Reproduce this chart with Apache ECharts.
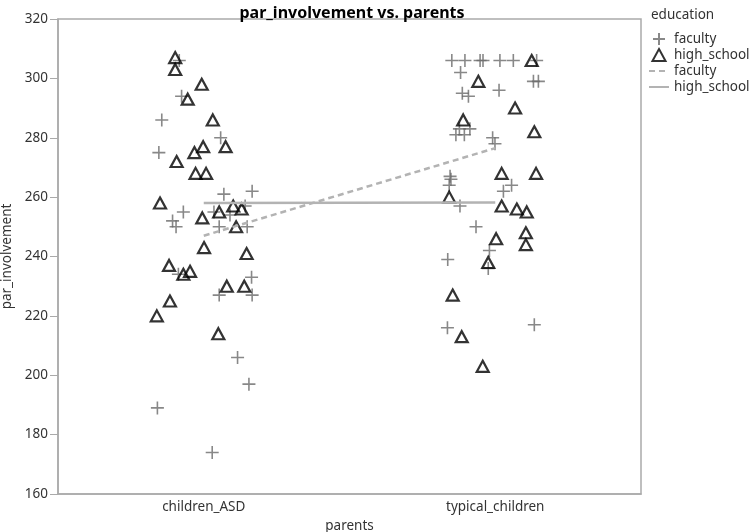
<!DOCTYPE html>
<html>
<head>
<meta charset="utf-8">
<script src="https://cdn.jsdelivr.net/npm/echarts@6/dist/echarts.min.js"></script>
<style>
  html, body { margin: 0; padding: 0; background: #fff; }
  #chart { width: 750px; height: 532px; }
</style>
</head>
<body>
<div id="chart"></div>
<script>
// categories on the x axis (placed at 1 and 2)
const categories = ['children_ASD', 'typical_children'];
const yTicks = [160, 180, 200, 220, 240, 260, 280, 300, 320];

// faculty, children_ASD
const facultyAsdY = [306, 294, 286, 280, 275, 261, 262, 255, 255, 254, 252, 250, 250, 250, 234, 233, 227, 227, 206, 197, 189, 174, 257];
const facultyAsdJitter = [-0.084, -0.076, -0.144, 0.058, -0.154, 0.069, 0.166, -0.070, 0.035, 0.090, -0.107, -0.095, 0.053, 0.149, -0.087, 0.164, 0.053, 0.166, 0.116, 0.155, -0.159, 0.029, 0.142];

// high_school, children_ASD
const hsAsdY = [307, 303, 298, 293, 286, 277, 277, 275, 272, 268, 268, 258, 257, 256, 255, 253, 250, 243, 241, 237, 234, 235, 230, 230, 225, 220, 214];
const hsAsdJitter = [-0.098, -0.098, -0.007, -0.055, 0.031, 0.075, -0.002, -0.032, -0.093, -0.028, 0.008, -0.150, 0.101, 0.130, 0.053, -0.005, 0.111, 0.001, 0.147, -0.119, -0.070, -0.047, 0.079, 0.139, -0.116, -0.161, 0.050];

// faculty, typical_children
const facultyTypY = [306, 306, 306, 306, 306, 306, 306, 302, 299, 299, 296, 295, 294, 283, 283, 281, 281, 280, 278, 267, 266, 264, 264, 262, 257, 250, 242, 239, 236, 216, 217];
const facultyTypJitter = [-0.149, -0.104, -0.052, -0.042, 0.016, 0.062, 0.142, -0.119, 0.131, 0.148, 0.013, -0.113, -0.092, -0.087, -0.123, -0.135, -0.106, -0.009, -0.001, -0.155, -0.152, -0.158, 0.056, 0.028, -0.121, -0.066, -0.020, -0.163, -0.024, -0.164, 0.134];

// high_school, typical_children
const hsTypY = [306, 299, 290, 286, 282, 268, 268, 260, 257, 256, 255, 248, 246, 244, 238, 227, 213, 203];
const hsTypJitter = [0.125, -0.058, 0.068, -0.110, 0.134, 0.022, 0.140, -0.158, 0.022, 0.074, 0.108, 0.105, 0.003, 0.105, -0.024, -0.146, -0.115, -0.043];

// fitted lines (value at each category)
const facultyFit = [247, 276.5];
const hsFit = [258, 258.2];

function pts(ys, jit, cat) {
  return ys.map((v, i) => [cat + jit[i], v]);
}

const chart = echarts.init(document.getElementById('chart'));
const font = 'Noto Sans';
const plusPath = 'path://M6,0L6,12M0,6L12,6';
const triPath = 'path://M6,0L12,11L0,11Z';
const lineGray = '#b3b3b3';

chart.setOption({
  animation: false,
  textStyle: { fontFamily: font },
  title: [
    {
      text: 'par_involvement vs. parents',
      left: 347, top: 0, textAlign: 'center',
      textStyle: { fontSize: 16, fontWeight: 'bold', color: '#000', fontFamily: font }
    },
    {
      text: 'education',
      left: 646, top: 3,
      textStyle: { fontSize: 13.5, fontWeight: 'normal', color: '#333', fontFamily: font }
    }
  ],
  legend: {
    orient: 'vertical',
    left: 643, top: 27,
    itemWidth: 20, itemHeight: 12, itemGap: 2,
    textStyle: { fontSize: 13.5, color: '#333' },
    data: ['faculty', { name: 'high_school', icon: triPath }, 'faculty ', 'high_school ']
  },
  grid: {
    left: 58, right: 109, top: 19, bottom: 38,
    outerBoundsMode: 'none',
    show: true, borderColor: '#aaa', borderWidth: 1.5
  },
  xAxis: {
    type: 'value', min: 0.5, max: 2.5,
    name: 'parents', nameLocation: 'middle', nameGap: 21,
    nameTextStyle: { fontSize: 13.5, color: '#333' },
    axisLine: { show: true, lineStyle: { color: '#aaa', width: 1.5 } },
    axisTick: { show: false },
    splitLine: { show: false },
    axisLabel: {
      customValues: [1, 2], fontSize: 13.5, color: '#333', margin: 6,
      formatter: v => categories[Math.round(v) - 1]
    }
  },
  yAxis: {
    type: 'value', min: yTicks[0], max: yTicks[yTicks.length - 1], interval: 20,
    name: 'par_involvement', nameLocation: 'middle', nameGap: 42,
    nameTextStyle: { fontSize: 13.5, color: '#333' },
    axisLine: { show: true, lineStyle: { color: '#aaa', width: 1.5 } },
    axisTick: { show: true, length: 8, lineStyle: { color: '#aaa' } },
    splitLine: { show: false },
    axisLabel: { fontSize: 13.5, color: '#333', margin: 10 }
  },
  series: [
    {
      name: 'faculty', type: 'scatter', symbol: plusPath, symbolSize: 13,
      itemStyle: { color: 'transparent', borderColor: '#6a6a6a', borderWidth: 1.6 },
      data: pts(facultyAsdY, facultyAsdJitter, 1).concat(pts(facultyTypY, facultyTypJitter, 2))
    },
    {
      name: 'high_school', type: 'scatter', symbol: 'triangle', symbolSize: [12, 11],
      itemStyle: { color: 'transparent', borderColor: '#000', borderWidth: 2.2 },
      data: pts(hsAsdY, hsAsdJitter, 1).concat(pts(hsTypY, hsTypJitter, 2))
    },
    {
      name: 'faculty ', type: 'line', symbol: 'none', color: lineGray,
      itemStyle: { color: lineGray, opacity: 0 },
      lineStyle: { color: lineGray, width: 2.5, type: [6, 4] },
      data: facultyFit.map((v, i) => [i + 1, v])
    },
    {
      name: 'high_school ', type: 'line', symbol: 'none', color: lineGray,
      itemStyle: { color: lineGray, opacity: 0 },
      lineStyle: { color: lineGray, width: 2.5 },
      data: hsFit.map((v, i) => [i + 1, v])
    }
  ]
});
</script>
</body>
</html>
